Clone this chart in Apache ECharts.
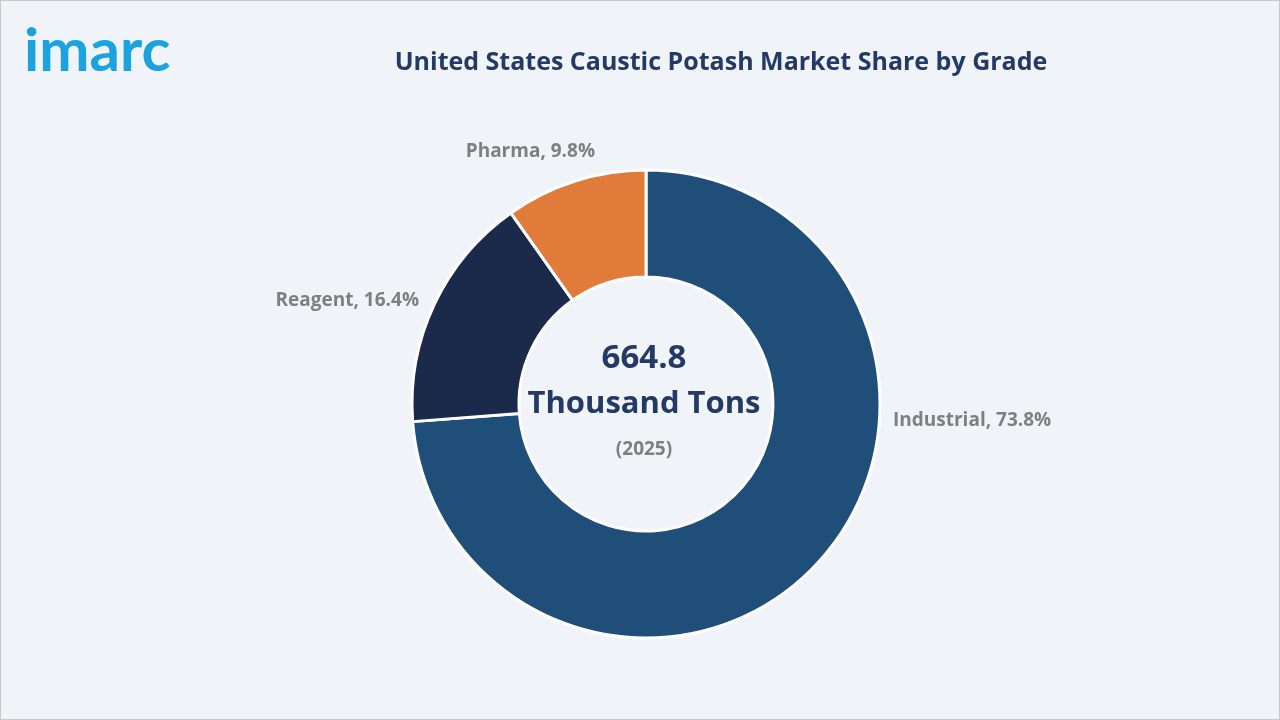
<!DOCTYPE html>
<html>
<head>
<meta charset="utf-8">
<script src="https://cdn.jsdelivr.net/npm/echarts@6/dist/echarts.min.js"></script>
<style>
  html, body { margin: 0; padding: 0; background: #f0f4f9; }
  #chart { width: 1278px; height: 718px; border: 1px solid #c8c8c8; }
</style>
</head>
<body>
<div id="chart"></div>
<script>
var grades = ['Industrial', 'Reagent', 'Pharma']
var shares = [73.8, 16.4, 9.8]
var colors = ['#1f4e79', '#1b2a4a', '#e07b39']
// label anchor spots (left/right edge, middle)
var labelSpots = [[892, 420, 'left'], [418, 300, 'right'], [594, 151, 'right']]

var myChart = echarts.init(document.getElementById('chart'))
var options = {
  backgroundColor: '#f0f4f9',
  title: [
    {
      text: 'United States Caustic Potash Market Share by Grade',
      left: 715, top: 44, textAlign: 'center',
      textStyle: { color: '#243a66', fontSize: 25, fontWeight: 'bold', fontFamily: 'Open Sans' }
    },
    {
      text: 'imarc',
      left: 18, top: 16,
      textStyle: { color: '#1aa3e0', fontSize: 60, fontWeight: 'bold', fontFamily: 'Lato' }
    }
  ],
  graphic: [
    { type: 'text', style: { x: 643, y: 358, text: '664.8', textAlign: 'center', textVerticalAlign: 'middle',
      fill: '#243a66', font: 'bold 33px "Open Sans"' } },
    { type: 'text', style: { x: 643, y: 403, text: 'Thousand Tons', textAlign: 'center', textVerticalAlign: 'middle',
      fill: '#243a66', font: 'bold 31px "Open Sans"' } },
    { type: 'text', style: { x: 643, y: 449, text: '(2025)', textAlign: 'center', textVerticalAlign: 'middle',
      fill: '#7f7f7f', font: 'bold 19px "Open Sans"' } }
  ],
  series: [
    {
      type: 'pie',
      center: [645, 403],
      radius: [127, 234],
      startAngle: 90,
      itemStyle: { borderColor: '#ffffff', borderWidth: 3 },
      label: {
        show: true,
        position: 'outside',
        formatter: function (p) { return p.name + ', ' + p.value + '%' },
        color: '#7f7f7f', fontSize: 19, fontWeight: 'bold', fontFamily: 'Open Sans'
      },
      labelLine: { show: false },
      labelLayout: function (params) {
        var s = labelSpots[params.dataIndex]
        return { x: s[0], y: s[1], align: s[2], verticalAlign: 'middle' }
      },
      data: grades.map(function (g, i) {
        return { name: g, value: shares[i], itemStyle: { color: colors[i] } }
      })
    }
  ]
}
myChart.setOption(options)
</script>
</body>
</html>
